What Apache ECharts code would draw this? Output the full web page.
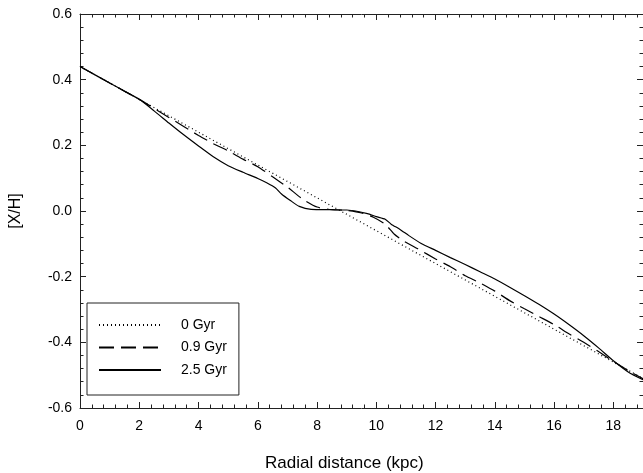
<!DOCTYPE html>
<html><head><meta charset="utf-8">
<script src="https://cdn.jsdelivr.net/npm/echarts@6/dist/echarts.min.js"></script>
<style>html,body{margin:0;padding:0;background:#fff}#c{width:643px;height:473px}</style>
</head><body><div id="c"></div>
<script>
const seriesNames = ['0 Gyr', '0.9 Gyr', '2.5 Gyr'];
const x0 = [0, 2, 4, 6, 8, 10, 12, 14, 16, 18, 19];
const y0 = [0.44, 0.34, 0.24, 0.14, 0.04, -0.06, -0.16, -0.26, -0.36, -0.46, -0.51];
const x1 = [0, 1, 2, 3, 4, 4.5, 5, 5.5, 6, 6.5, 7, 7.5, 8, 8.5, 9, 9.5, 9.9, 10.3, 10.6, 10.9, 11.4, 12, 12.5, 13, 13.5, 14, 14.5, 15, 15.5, 16, 16.5, 17, 17.5, 18, 18.5, 19];
const y1 = [0.44, 0.39, 0.34, 0.285, 0.23, 0.205, 0.183, 0.158, 0.135, 0.104, 0.073, 0.037, 0.012, 0.004, 0.002, -0.006, -0.019, -0.04, -0.07, -0.09, -0.115, -0.146, -0.17, -0.197, -0.219, -0.244, -0.273, -0.298, -0.322, -0.346, -0.374, -0.40, -0.428, -0.458, -0.486, -0.511];
const x2 = [0, 1, 1.5, 2, 2.5, 3, 3.5, 4, 4.5, 5, 5.5, 6, 6.3, 6.6, 6.8, 7.1, 7.4, 7.8, 8.5, 9, 9.3, 9.7, 10, 10.3, 10.5, 10.8, 11.1, 11.5, 12, 12.5, 13, 13.5, 14, 14.5, 15, 15.5, 16, 16.5, 17, 17.5, 18, 18.5, 19];
const y2 = [0.44, 0.39, 0.365, 0.34, 0.305, 0.268, 0.232, 0.198, 0.165, 0.138, 0.118, 0.099, 0.086, 0.07, 0.052, 0.032, 0.014, 0.005, 0.004, 0.003, 0.0, -0.008, -0.017, -0.025, -0.04, -0.056, -0.075, -0.098, -0.12, -0.142, -0.163, -0.185, -0.207, -0.232, -0.258, -0.285, -0.314, -0.346, -0.38, -0.417, -0.456, -0.49, -0.514];
const xTitle = 'Radial distance (kpc)';
const yTitle = '[X/H]';

const zip = (xs, ys) => xs.map((x, i) => [x, ys[i]]);
const font = 'Liberation Sans, Arial, sans-serif';
const lineCol = '#222';
const axisLine = { onZero: false, lineStyle: { color: lineCol, width: 1 } };
const noLine = { show: false, onZero: false };
const tick = { inside: true, length: 6, lineStyle: { color: lineCol } };
const minorTickAx = { inside: true, length: 3.5, lineStyle: { color: lineCol } };
const minorY = { show: true, splitNumber: 5, length: 3.5, lineStyle: { color: lineCol } };

function xAx(pos, major, labels) {
  return {
    type: 'value', min: 0, max: 19, interval: major ? 2 : 0.4, position: pos,
    axisLine: major ? axisLine : noLine, axisTick: major ? tick : minorTickAx,
    splitLine: { show: false },
    axisLabel: labels ? { margin: 11, fontFamily: font, fontSize: 14, color: '#000', showMaxLabel: false } : { show: false }
  };
}

const chart = echarts.init(document.getElementById('c'), null, { renderer: 'canvas' });
chart.setOption({
  animation: false,
  backgroundColor: '#fff',
  title: { text: xTitle, left: 260, top: 450, textStyle: { fontFamily: font, fontSize: 17, fontWeight: 'normal', color: '#000' } },
  grid: { left: 80, top: 14, right: 0, height: 394 },
  legend: {
    orient: 'vertical', left: 87, top: 303,
    padding: [15, 12, 18, 11],
    itemWidth: 62, itemHeight: 14, itemGap: 8.5,
    borderColor: lineCol, borderWidth: 1,
    itemStyle: { opacity: 0 },
    textStyle: { fontFamily: font, fontSize: 14, color: '#000', padding: [0, 0, 0, 15] },
    data: seriesNames
  },
  xAxis: [xAx('bottom', true, true), xAx('top', true, false), xAx('bottom', false, false), xAx('top', false, false)],
  yAxis: [
    { type: 'value', min: -0.6, max: 0.6, interval: 0.2, position: 'left',
      axisLine: axisLine, axisTick: tick, minorTick: minorY, splitLine: { show: false },
      name: yTitle, nameLocation: 'middle', nameGap: 56, nameRotate: 90,
      nameTextStyle: { fontFamily: font, fontSize: 16, color: '#000' },
      axisLabel: { margin: 8, fontFamily: font, fontSize: 14, color: '#000',
        formatter: v => (Math.abs(v) < 1e-9 ? '0.0' : v.toFixed(1)) } },
    { type: 'value', min: -0.6, max: 0.6, interval: 0.2, position: 'right',
      axisLine: noLine, axisTick: tick, minorTick: minorY, splitLine: { show: false },
      axisLabel: { show: false } }
  ],
  series: [
    { name: seriesNames[0], type: 'line', xAxisIndex: 0, yAxisIndex: 0, data: zip(x0, y0), symbol: 'none',
      lineStyle: { color: '#000', width: 1.2, type: [1, 3] }, itemStyle: { color: '#000' } },
    { name: seriesNames[1], type: 'line', xAxisIndex: 0, yAxisIndex: 0, data: zip(x1, y1), symbol: 'none', smooth: 0.2,
      lineStyle: { color: '#000', width: 1.2, type: [15, 7] }, itemStyle: { color: '#000' } },
    { name: seriesNames[2], type: 'line', xAxisIndex: 0, yAxisIndex: 0, data: zip(x2, y2), symbol: 'none', smooth: 0.2,
      lineStyle: { color: '#000', width: 1.2, type: 'solid' }, itemStyle: { color: '#000' } }
  ]
});
</script></body></html>
